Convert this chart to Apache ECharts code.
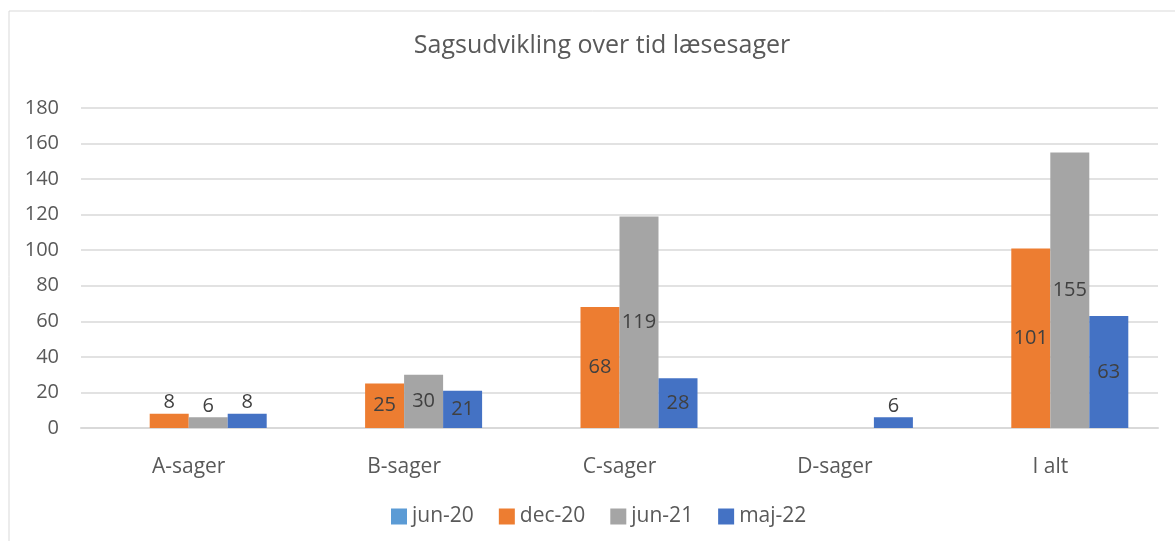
<!DOCTYPE html>
<html>
<head>
<meta charset="utf-8">
<script src="https://cdn.jsdelivr.net/npm/echarts@6/dist/echarts.min.js"></script>
<style>
  html, body { margin: 0; padding: 0; background: #fff; }
  #main { width: 1175px; height: 541px; }
</style>
</head>
<body>
<div id="main"></div>
<script>
var myChart = echarts.init(document.getElementById('main'))

var categories = ['A-sager', 'B-sager', 'C-sager', 'D-sager', 'I alt']
var seriesNames = ['jun-20', 'dec-20', 'jun-21', 'maj-22']
var colors = ['#5B9BD5', '#ED7D31', '#A5A5A5', '#4472C4']

// null = ingen værdi
var jun20 = [null, null, null, null, null]
var dec20 = [8, 25, 68, null, 101]
var jun21 = [6, 30, 119, null, 155]
var maj22 = [8, 21, 28, 6, 63]

var yTicks = { min: 0, max: 180, interval: 20 }

var fontName = '"Open Sans", "Noto Sans", sans-serif'
var textColor = '#595959'

function makeSeries(name, values, color) {
  return {
    name: name,
    type: 'bar',
    barWidth: 39,
    barGap: '0%',
    barCategoryGap: '27%',
    itemStyle: { color: color },
    data: values.map(function (v) {
      // små søjler får etiketten ovenover
      var small = v !== null && v < 10
      return {
        value: v,
        label: {
          show: v !== null,
          position: small ? 'top' : 'inside',
          distance: 1,
        },
      }
    }),
    label: {
      fontFamily: fontName,
      fontSize: 20,
      color: '#404040',
    },
  }
}

var option = {
  animation: false,
  title: {
    text: 'Sagsudvikling over tid læsesager',
    left: 597,
    textAlign: 'center',
    top: 28,
    textStyle: {
      fontFamily: fontName,
      fontSize: 25,
      fontWeight: 'normal',
      color: textColor,
    },
  },
  graphic: [
    {
      type: 'rect',
      shape: { x: 9, y: 11, width: 1300, height: 700 },
      style: { fill: 'none', stroke: '#d9d9d9', lineWidth: 1 },
      silent: true,
    },
  ],
  legend: {
    data: seriesNames,
    bottom: 9,
    left: 386,
    icon: 'rect',
    itemWidth: 16,
    itemHeight: 16,
    itemGap: 25,
    textStyle: {
      fontFamily: fontName,
      fontSize: 21,
      color: textColor,
    },
  },
  grid: {
    left: 81,
    right: 17,
    top: 108,
    bottom: 113,
    containLabel: false,
  },
  xAxis: {
    type: 'category',
    data: categories,
    axisLine: { lineStyle: { color: '#d9d9d9', width: 2 } },
    axisTick: { show: false },
    axisLabel: {
      margin: 29,
      fontFamily: fontName,
      fontSize: 21,
      color: textColor,
    },
  },
  yAxis: {
    type: 'value',
    min: yTicks.min,
    max: yTicks.max,
    interval: yTicks.interval,
    axisLine: { show: false },
    axisTick: { show: false },
    splitLine: { lineStyle: { color: '#d9d9d9', width: 1.5 } },
    axisLabel: {
      margin: 22,
      fontFamily: fontName,
      fontSize: 20,
      color: textColor,
    },
  },
  series: [
    makeSeries(seriesNames[0], jun20, colors[0]),
    makeSeries(seriesNames[1], dec20, colors[1]),
    makeSeries(seriesNames[2], jun21, colors[2]),
    makeSeries(seriesNames[3], maj22, colors[3]),
  ],
}

myChart.setOption(option)
</script>
</body>
</html>
